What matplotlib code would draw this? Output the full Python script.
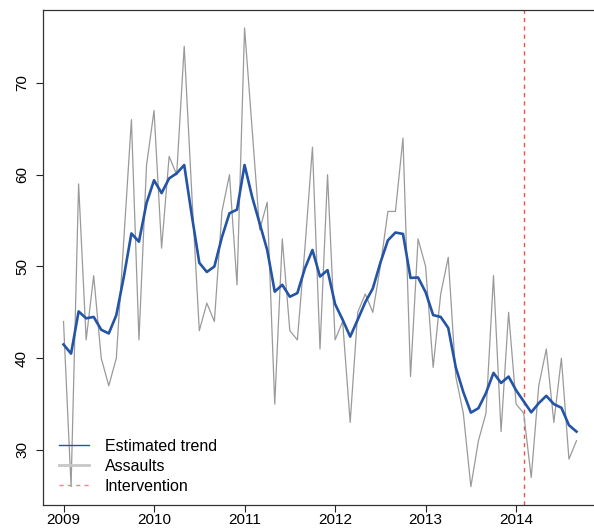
import numpy as np
import matplotlib
matplotlib.use("Agg")
import matplotlib.pyplot as plt
from matplotlib.lines import Line2D

plt.rcParams['font.family'] = ['Liberation Sans', 'DejaVu Sans']

# Monthly series, January 2009 to September 2014
start_year = 2009
assaults = [44, 26, 59, 42, 49, 40, 37, 40, 53, 66, 42, 61,
            67, 52, 62, 60, 74, 58, 43, 46, 44, 56, 60, 48,
            76, 65, 54, 57, 35, 53, 43, 42, 52, 63, 41, 60,
            42, 44, 33, 45, 47, 45, 50, 56, 56, 64, 38, 53,
            50, 39, 47, 51, 38, 34, 26, 31, 34, 49, 32, 45,
            35, 34, 27, 37, 41, 33, 40, 29, 31]
trend = [41.5, 40.5, 45.1, 44.35, 44.5, 43.1, 42.7, 44.7, 48.9, 53.6, 52.7, 56.9,
         59.4, 58.0, 59.6, 60.15, 61.06, 55.6, 50.4, 49.4, 50.0, 53.2, 55.8, 56.2,
         61.06, 57.6, 54.7, 51.8, 47.25, 48.0, 46.7, 47.1, 49.8, 51.8, 48.9, 49.6,
         45.9, 44.2, 42.35, 44.2, 46.1, 47.6, 50.4, 52.85, 53.7, 53.55, 48.75, 48.8,
         47.2, 44.7, 44.5, 43.3, 39.0, 36.3, 34.07, 34.55, 36.2, 38.4, 37.3, 38.0,
         36.5, 35.3, 34.1, 35.1, 35.9, 35.0, 34.6, 32.7, 32.0]
intervention = 2014 + 1 / 12
x_ticks = [2009, 2010, 2011, 2012, 2013, 2014]
y_ticks = [30, 40, 50, 60, 70]

t = start_year + np.arange(len(assaults)) / 12.0

W, H = 594, 530
fig = plt.figure(figsize=(W / 100, H / 100), dpi=100)
ax = fig.add_axes([43 / W, 1 - 505 / H, (597 - 43) / W, (505 - 9.6) / H])

ax.plot(t, assaults, color='#9a9a9a', lw=0.9, zorder=2)
ax.plot(t, trend, color='#2454a6', lw=1.9, zorder=3)
ax.axvline(intervention, color='#e8554e', lw=1.0, ls=(0, (3, 3)), zorder=1)

# R-style 4% padding on both axes
def padded(lo, hi):
    d = (hi - lo) * 0.04
    return lo - d, hi + d

ax.set_xlim(*padded(t[0], t[-1]))
ax.set_ylim(*padded(min(assaults), max(assaults)))

ax.set_xticks(x_ticks)
ax.set_yticks(y_ticks)
ax.tick_params(axis='both', direction='out', length=5, width=0.8,
               labelsize=11, colors='#222222', labelcolor='black')
ax.tick_params(axis='x', pad=1)
ax.tick_params(axis='y', pad=5)
for lab in ax.get_yticklabels():
    lab.set_rotation(90)
    lab.set_va('center')

for s in ax.spines.values():
    s.set_linewidth(0.9)
    s.set_color('#333333')

handles = [
    Line2D([], [], color='#2454a6', lw=1.0),
    Line2D([], [], color='#c8c8c8', lw=2.0),
    Line2D([], [], color='#f08080', lw=1.0, ls=(0, (3, 3))),
]
ax.legend(handles, ['Estimated trend', 'Assaults', 'Intervention'],
          loc='lower left', bbox_to_anchor=(0.008, 0.0), frameon=False,
          fontsize=11.5, handlelength=1.9, handletextpad=1.0,
          labelspacing=0.32, borderpad=0.2)

fig.savefig('out.png', dpi=100)
